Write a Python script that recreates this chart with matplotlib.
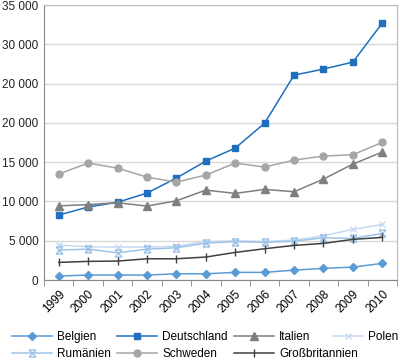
import numpy as np
import matplotlib
matplotlib.use("Agg")
import matplotlib.pyplot as plt
from matplotlib.path import Path

plt.rcParams['font.family'] = ['Liberation Sans', 'DejaVu Sans']

years = ["1999", "2000", "2001", "2002", "2003", "2004", "2005", "2006", "2007", "2008", "2009", "2010"]

belgien = [510, 640, 640, 640, 800, 800, 980, 980, 1270, 1490, 1650, 2120]
deutschland = [8270, 9300, 9900, 11070, 12980, 15140, 16790, 19970, 26080, 26850, 27740, 32700]
italien = [9450, 9600, 9840, 9420, 10090, 11450, 11030, 11540, 11240, 12850, 14760, 16290]
polen = [4450, 4240, 4200, 4200, 4300, 4900, 5000, 4900, 5090, 5640, 6450, 7080]
rumaenien = [3820, 3940, 3470, 3940, 4110, 4700, 4900, 4800, 4950, 5380, 5300, 5940]
schweden = [13490, 14890, 14250, 13100, 12470, 13360, 14890, 14380, 15270, 15780, 15950, 17520]
gb = [2250, 2380, 2420, 2710, 2710, 2930, 3520, 3990, 4410, 4670, 5180, 5430]

y_ticks = [0, 5000, 10000, 15000, 20000, 25000, 30000, 35000]
y_labels = ["0", "5 000", "10 000", "15 000", "20 000", "20 000", "30 000", "35 000"]

# x with bars on top and bottom
bowtie = Path([(-1, -1), (1, 1), (-1, 1), (1, -1), (-1, 1), (1, 1), (-1, -1), (1, -1)],
              [Path.MOVETO, Path.LINETO] * 4)

series = [
    ("Belgien", belgien, "#5b9bd5", "D", 4.5),
    ("Deutschland", deutschland, "#1f6fbf", "s", 5),
    ("Italien", italien, "#7f7f7f", "^", 6),
    ("Polen", polen, "#c6d9f1", "x", 5),
    ("Rumänien", rumaenien, "#9dc3e6", bowtie, 5),
    ("Schweden", schweden, "#a6a6a6", "o", 5),
    ("Großbritannien", gb, "#404040", "|", 6),
]

fig = plt.figure(figsize=(4, 3.6), dpi=100)
ax = fig.add_axes([0.11, 0.222, 0.8825, 0.764])

x = np.arange(len(years))
handles = {}
for name, vals, col, mk, ms in series:
    h, = ax.plot(x, vals, color=col, marker=mk, markersize=ms, linewidth=1.1,
                 markeredgecolor=col, markerfacecolor=col, label=name)
    handles[name] = h

ax.set_xlim(-0.5, len(years) - 0.5)
ax.set_ylim(0, 35000)
ax.set_yticks(y_ticks)
ax.set_yticklabels(y_labels)
ax.set_xticks(x)
ax.set_xticklabels(years, rotation=45, ha="right", rotation_mode="anchor")
ax.set_xticks(np.arange(-0.5, len(years), 1), minor=True)
ax.tick_params(axis="x", which="major", length=0, labelsize=8.5, pad=6)
ax.tick_params(axis="x", which="minor", length=4, color="#888888", direction="out")
ax.tick_params(axis="y", length=0, labelsize=8.5, pad=4, colors="#222222")
ax.grid(axis="y", color="#d9d9d9", linewidth=1)
ax.set_axisbelow(True)
for side in ["left", "bottom"]:
    ax.spines[side].set_color("#888888")
for side in ["top", "right"]:
    ax.spines[side].set_color("#bbbbbb")

# legend: three columns plus Polen squeezed in at the right of the first row
leg_kw = dict(frameon=False, fontsize=8.5, handletextpad=0.4,
              borderpad=0, borderaxespad=0, labelspacing=0.4)
order = ["Belgien", "Rumänien", "Deutschland", "Schweden", "Italien", "Großbritannien"]
fig.legend([handles[n] for n in order], order, loc="upper left",
           bbox_to_anchor=(0.03, 0.08), ncol=3, columnspacing=0.55,
           handlelength=3.4, **leg_kw)
fig.legend([handles["Polen"]], ["Polen"], loc="upper left",
           bbox_to_anchor=(0.832, 0.08), handlelength=2.6, **leg_kw)

fig.savefig("out.png", dpi=100)
